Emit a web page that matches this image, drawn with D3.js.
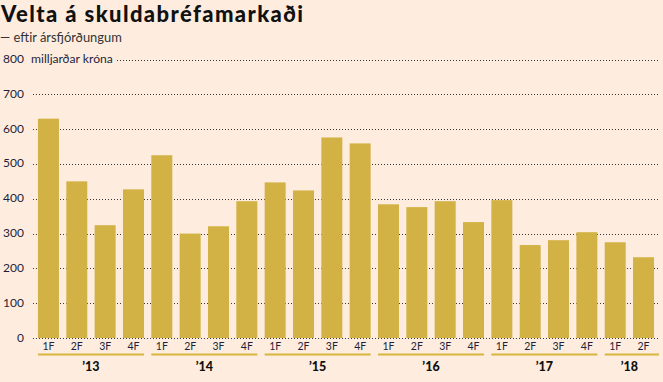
<!DOCTYPE html>
<html>
<head>
<meta charset="utf-8">
<script src="https://cdn.jsdelivr.net/npm/d3@7"></script>
<style>
  html, body { margin: 0; padding: 0; background: #FEEDDF; }
  svg { display: block; font-family: Lato, "Open Sans", sans-serif; }
</style>
</head>
<body>
<svg id="chart" width="663" height="382"></svg>
<script>
const quarterLabels = ["1F","2F","3F","4F","1F","2F","3F","4F","1F","2F","3F","4F","1F","2F","3F","4F","1F","2F","3F","4F","1F","2F"];
const yearLabels = ["’13","’14","’15","’16","’17","’18"];
const values = [630,450,324,427,525,300,321,393,447,424,576,559,384,376,393,333,396,267,281,304,275,232];
const yTicks = [0,100,200,300,400,500,600,700,800];

const W = 663, H = 382;
const svg = d3.select("#chart");
svg.append("rect").attr("width", W).attr("height", H).attr("fill", "#FEEDDF");

const barColor = "#D2B245";
const gridLeft = 33, gridRight = 659;

const x = d3.scaleBand()
  .domain(d3.range(values.length))
  .range([34.3, 657.7])
  .paddingInner(0.259)
  .paddingOuter(0.1295);

const y = d3.scaleLinear().domain([0, 800]).range([338, 59.5]);

function fitSize(sel, base, target) {
  sel.attr("font-size", base);
  const w = sel.node().getComputedTextLength();
  sel.attr("font-size", base * target / w);
}

// title
svg.append("text")
  .attr("x", 1).attr("y", 22)
  .attr("font-size", 22).attr("font-weight", 900)
  .attr("fill", "#111")
  .attr("textLength", 302).attr("lengthAdjust", "spacing")
  .text("Velta á skuldabréfamarkaði");

const sub = svg.append("text")
  .attr("x", 0).attr("y", 41.5)
  .attr("fill", "#333")
  .text("— eftir ársfjórðungum");
fitSize(sub, 12, 122);

// grid
const grid = svg.append("g");
yTicks.forEach(t => {
  grid.append("line")
    .attr("x1", t === 800 ? 117 : gridLeft)
    .attr("x2", gridRight)
    .attr("y1", Math.round(y(t)) + 0.5)
    .attr("y2", Math.round(y(t)) + 0.5)
    .attr("stroke", "#3a3a3a")
    .attr("stroke-width", 1)
    .attr("stroke-dasharray", "1,2");
  grid.append("text")
    .attr("x", 24).attr("y", y(t) + 0.5)
    .attr("text-anchor", "end")
    .attr("dominant-baseline", "middle")
    .attr("font-size", 12).attr("fill", "#1e1e3a")
    .text(t);
});
const unit = svg.append("text")
  .attr("x", 31).attr("y", y(800) + 0.5)
  .attr("dominant-baseline", "middle")
  .attr("fill", "#1e1e3a")
  .text("milljarðar króna");
fitSize(unit, 12, 82);

// bars
svg.append("g").selectAll("rect")
  .data(values)
  .join("rect")
  .attr("x", (d, i) => x(i))
  .attr("width", x.bandwidth())
  .attr("y", d => y(d))
  .attr("height", d => y(0) - y(d))
  .attr("fill", barColor);

// quarter labels
svg.append("g").selectAll("text")
  .data(quarterLabels)
  .join("text")
  .attr("x", (d, i) => x(i) + x.bandwidth() / 2)
  .attr("y", 347.5)
  .attr("text-anchor", "middle")
  .attr("dominant-baseline", "middle")
  .attr("font-size", 10.5).attr("fill", "#1e1e3a")
  .text(d => d);

// year groups
yearLabels.forEach((yl, k) => {
  const first = k * 4;
  const last = Math.min(first + 3, values.length - 1);
  const x0 = x(first);
  const x1 = (k === yearLabels.length - 1) ? gridRight : x(last) + x.bandwidth();
  svg.append("line")
    .attr("x1", x0).attr("x2", x1)
    .attr("y1", 354.5).attr("y2", 354.5)
    .attr("stroke", "#D6B53F").attr("stroke-width", 2);
  svg.append("text")
    .attr("x", (x(first) + x(last) + x.bandwidth()) / 2)
    .attr("y", 367.5)
    .attr("text-anchor", "middle")
    .attr("dominant-baseline", "middle")
    .attr("font-size", 12.5).attr("font-weight", 900).attr("fill", "#111")
    .text(yl);
});
</script>
</body>
</html>
